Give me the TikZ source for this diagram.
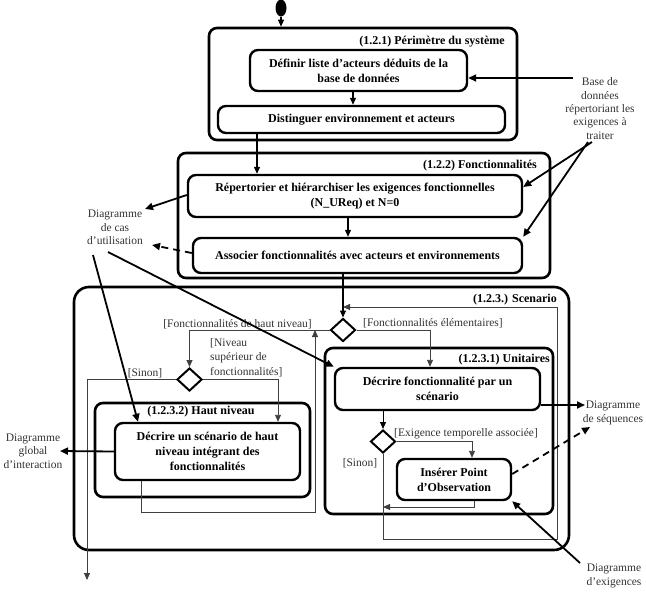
\documentclass[tikz,border=0pt]{standalone}
\usepackage{fontspec}
\setmainfont{Liberation Serif}
\usetikzlibrary{arrows.meta,shapes.geometric,calc}
\begin{document}
\begin{tikzpicture}[x=1pt,y=-1pt,
  cont/.style={draw,line width=2.6pt,rounded corners=8pt,inner sep=0},
  act/.style={draw,line width=2.4pt,rounded corners=8pt,align=center,font=\fontsize{12}{15}\selectfont\bfseries,inner sep=0},
  ttl/.style={font=\fontsize{12}{14}\selectfont\bfseries,inner sep=0},
  lbl/.style={text=black!80,font=\fontsize{11.5}{13.3}\selectfont,align=center,inner sep=0},
  grd/.style={text=black!80,font=\fontsize{11.5}{14.5}\selectfont,inner sep=0},
  dec/.style={diamond,draw,line width=2pt,minimum width=25pt,minimum height=23pt,inner sep=0},
  flow/.style={line width=1.2pt,-{Triangle[length=7pt,width=6pt]}},
  thinl/.style={draw=black!75,line width=0.9pt,-{Triangle[length=7pt,width=6pt]}},
  trc/.style={line width=1.8pt,-{Triangle[length=8pt,width=7pt]}},
]
\useasboundingbox (0,0) rectangle (646,608);

% containers
\node[cont,minimum width=308pt,minimum height=112pt] (b1) at (363,84) {};
\node[cont,minimum width=372pt,minimum height=125pt] (b2) at (364,215.5) {};
\node[cont,rounded corners=15pt,minimum width=495pt,minimum height=263pt] (b3) at (321.5,418.5) {};
\node[cont,minimum width=228pt,minimum height=166pt] (b4) at (439,431) {};
\node[cont,minimum width=215pt,minimum height=94pt] (b5) at (202.5,450) {};

% titles
\node[ttl,anchor=east] (t1) at (505,42) {(1.2.1) Périmètre du système};
\node[ttl,anchor=east] (t2) at (537,166) {(1.2.2) Fonctionnalités};
\node[ttl,anchor=east] (t3) at (557,300) {(1.2.3.) Scenario};
\node[ttl,anchor=east] (t4) at (550,360) {(1.2.3.1) Unitaires};
\node[ttl] (t5) at (201,412) {(1.2.3.2) Haut niveau};

% initial node
\node[fill,ellipse,minimum width=11pt,minimum height=17pt,inner sep=0] (init) at (281,8) {};

% actions
\node[act,minimum width=217pt,minimum height=41pt] (def) at (358.5,70.5) {Définir liste d’acteurs déduits de la\\base de données};
\node[act,minimum width=287pt,minimum height=27pt] (dist) at (361.5,119.5) {Distinguer environnement et acteurs};
\node[act,minimum width=334pt,minimum height=42pt] (rep) at (355,196) {Répertorier et hiérarchiser les exigences fonctionnelles\\(N\_UReq) et N=0};
\node[act,minimum width=329pt,minimum height=35pt] (assoc) at (357.5,255.5) {Associer fonctionnalités avec acteurs et environnements};
\node[act,minimum width=205pt,minimum height=42pt] (dfon) at (437.5,389) {Décrire fonctionnalité par un\\scénario};
\node[act,minimum width=114pt,minimum height=41pt] (ins) at (454,479.5) {Insérer Point\\d’Observation};
\node[act,minimum width=185pt,minimum height=57pt] (dhaut) at (207.5,451.5) {Décrire un scénario de haut\\niveau intégrant des\\fonctionnalités};

% decisions
\node[dec] (d1) at (343,330) {};
\node[dec] (d2) at (383,441.5) {};
\node[dec] (d3) at (189.5,379.5) {};

% outside labels
\node[lbl] (base) at (600,108.5) {Base de\\données\\répertoriant les\\exigences à\\traiter};
\node[lbl] (dcas) at (115,227.5) {Diagramme\\de cas\\d’utilisation};
\node[lbl] (dglob) at (33,451) {Diagramme\\global\\d’interaction};
\node[lbl] (dseq) at (613,413) {Diagramme\\de séquences};
\node[lbl] (dexi) at (614,576) {Diagramme\\d’exigences};

% guards
\node[grd,anchor=east] (g1) at (312,324) {[Fonctionnalités de haut niveau]};
\node[grd,anchor=west] (g2) at (363,323) {[Fonctionnalités élémentaires]};
\node[grd,anchor=west,align=left] (g3) at (210,357.5) {[Niveau\\supérieur de\\fonctionnalités]};
\node[grd] (g4) at (145,373) {[Sinon]};
\node[grd,anchor=west] (g5) at (394,434) {[Exigence temporelle associée]};
\node[grd] (g6) at (360,463) {[Sinon]};

% free ends
\coordinate (bs) at (573,78);
\coordinate (tr1) at (592,142);
\coordinate (tr2) at (588,142);
\coordinate (dc1) at (145,209);
\coordinate (dc2) at (152,245);
\coordinate (dc3) at (93,255);
\coordinate (dc4) at (108,252);
\coordinate (gl) at (60,451);
\coordinate (sq1) at (585,405);
\coordinate (sq2) at (590,427);
\coordinate (ex) at (580,563);
\coordinate (exit) at (87,580);

% control flow
\draw[flow] (init.south) -- (init |- b1.north);
\draw[flow] (353,0 |- def.south) -- (353,0 |- dist.north);
\draw[flow] (257,0 |- dist.south) -- (257,0 |- rep.north);
\draw[flow] (348,0 |- rep.south) -- (348,0 |- assoc.north);
\draw[flow] (343,0 |- assoc.south) -- (d1.north);
\draw[thinl] (d1.west) -- (189.5,0 |- d1.west) -- (d3.north);
\draw[thinl] (d1.east) -- (430,0 |- d1.east) -- (430,0 |- dfon.north);
\draw[thinl] (d3.west) -- (87,0 |- d3.west) -- (exit);
\draw[thinl] (d3.east) -- (278,0 |- d3.east) -- (278,0 |- dhaut.north);
\draw[thinl] (141,0 |- dhaut.south) -- (141,512) -- (315,512) -- (315,0 |- d1.west);
\draw[flow,line width=1pt] (383,0 |- dfon.south) -- (d2.north);
\draw[thinl] (d2.east) -- (472,0 |- d2.east) -- (472,0 |- ins.north);
\draw[thinl] (474,0 |- ins.south) -- (474,507) -- (d2.south |- 0,507);
\draw[thinl] (d2.south) -- (383,539) -- (557,539) -- (557,307) -- (d1.north |- 0,307);

% traces
\draw[trc] (bs) -- (def.east |- bs);
\draw[trc] (tr1) -- (rep.east |- 0,187);
\draw[trc] (tr2) -- (assoc.north east);
\draw[trc] (rep.west |- 0,195) -- (dc1);
\draw[trc,dash pattern=on 7pt off 5pt] (assoc.west |- 0,253) -- (dc2);
\draw[trc] (dc3) -- (138,0 |- dhaut.north);
\draw[trc] (dc4) -- (dfon.north west);
\draw[trc] (dhaut.west) -- (gl);
\draw[trc] (dfon.east |- sq1) -- (sq1);
\draw[trc,dash pattern=on 7pt off 5pt] (ins.east |- 0,474) -- (sq2);
\draw[trc] (ex) -- (ins.south east);
\end{tikzpicture}
\end{document}
